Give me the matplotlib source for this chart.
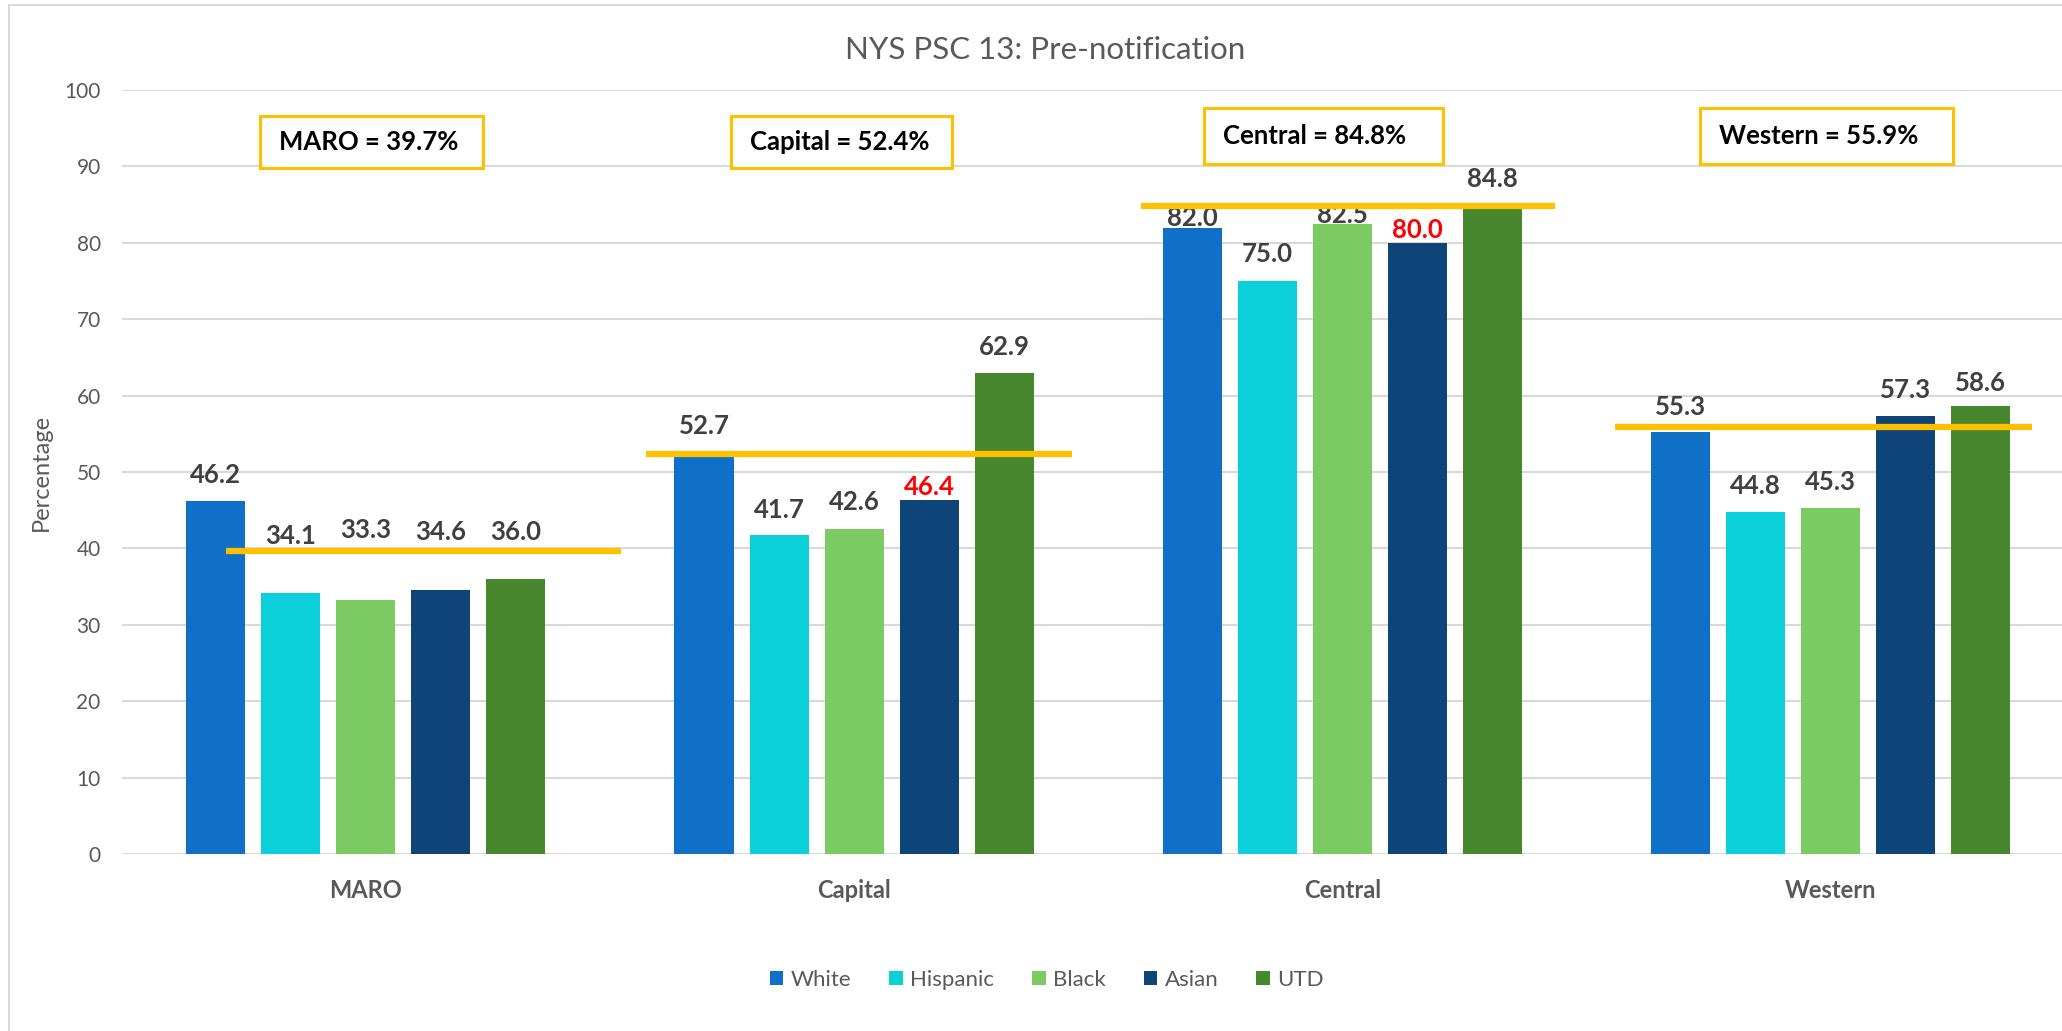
import matplotlib
matplotlib.use("Agg")
import matplotlib.pyplot as plt
from matplotlib.patches import Rectangle, Patch
import numpy as np

plt.rcParams['font.family'] = ['Lato', 'DejaVu Sans']

# ---------------- data ----------------
regions = ["MARO", "Capital", "Central", "Western"]
groups = ["White", "Hispanic", "Black", "Asian", "UTD"]
white = [46.2, 52.7, 82.0, 55.3]
hispanic = [34.1, 41.7, 75.0, 44.8]
black = [33.3, 42.6, 82.5, 45.3]
asian = [34.6, 46.4, 80.0, 57.3]
utd = [36.0, 62.9, 84.8, 58.6]
region_overall = [39.7, 52.4, 84.8, 55.9]
yticks = list(range(0, 101, 10))
title = "NYS PSC 13: Pre-notification"
ylabel = "Percentage"

# labels highlighted in red: (region index, group index)
red_labels = [(1, 3), (2, 3)]

# ---------------- layout / style ----------------
colors = ["#1070C8", "#0BD0D9", "#7CCB62", "#0E4478", "#47882F"]
# label centre heights (data units), manually placed as in the original
label_pos = [
    [49.6, 56.0, 83.2, 58.5],
    [41.6, 45.0, 78.5, 48.2],
    [42.4, 46.1, 83.6, 48.7],
    [42.1, 48.0, 81.7, 60.7],
    [42.1, 66.4, 88.3, 61.6],
]
# horizontal extent of the average line relative to category centre
avg_extent = [(-0.286, 0.523), (-0.426, 0.447), (-0.412, 0.436), (-0.441, 0.412)]
# boxes in pixel coords: (x0, y0_top, x1, y1_bottom)
boxes_px = [(260, 116, 483, 168), (731, 116, 952, 168),
            (1204, 108, 1443, 164), (1700, 108, 1953, 164)]

W, H = 2062, 1031
fig = plt.figure(figsize=(W / 100, H / 100), dpi=100)
fig.patch.set_facecolor("white")

# outer chart border
fig.patches.append(Rectangle((9 / W, -0.1), 1.2, 1 - 5 / H + 0.1, transform=fig.transFigure,
                             fill=False, edgecolor="#D9D9D9", linewidth=1.5, zorder=0))

ax_left = 121.5 / W
ax_right = 2075 / W
ax_top = 1 - 90 / H
ax_bottom = 1 - 854 / H
ax = fig.add_axes([ax_left, ax_bottom, ax_right - ax_left, ax_top - ax_bottom])
ax.set_facecolor("none")

series = [white, hispanic, black, asian, utd]
x = np.arange(len(regions))
bw = 0.121
pitch = 0.1536
offsets = (np.arange(len(groups)) - 2) * pitch

for gi, (vals, c) in enumerate(zip(series, colors)):
    ax.bar(x + offsets[gi], vals, width=bw, color=c, label=groups[gi], zorder=3)
    for ri, v in enumerate(vals):
        col = "#FF0000" if (ri, gi) in red_labels else "#404040"
        ax.text(x[ri] + offsets[gi], label_pos[gi][ri], f"{v:.1f}", ha="center", va="center",
                fontsize=18.5, fontweight="bold", color=col, zorder=4)

for ri, val in enumerate(region_overall):
    a, b = avg_extent[ri]
    ax.plot([x[ri] + a, x[ri] + b], [val, val], color="#FFC000", linewidth=4.5,
            solid_capstyle="butt", zorder=5)

ax.set_xlim(-0.5, 3.5)
ax.set_ylim(0, 100)
ax.set_yticks(yticks)
ax.yaxis.grid(True, color="#D9D9D9", linewidth=1.5, zorder=0)
ax.set_axisbelow(True)
for s in ax.spines.values():
    s.set_visible(False)
ax.tick_params(axis="y", length=0, pad=15, labelsize=15, labelcolor="#595959")
ax.tick_params(axis="x", length=0, pad=18, labelsize=17, labelcolor="#595959")
ax.set_xticks(x)
ax.set_xticklabels(regions, fontweight="bold")
ax.set_ylabel(ylabel, fontsize=17, color="#595959", labelpad=9)

fig.text(1045 / W, 1 - 50 / H, title, ha="center", va="center", fontsize=22.5, color="#595959")

# region summary boxes
for ri, (x0, y0, x1, y1) in enumerate(boxes_px):
    fig.patches.append(Rectangle((x0 / W, 1 - y1 / H), (x1 - x0) / W, (y1 - y0) / H,
                                 transform=fig.transFigure, facecolor="white",
                                 edgecolor="#FFC000", linewidth=2.2, zorder=6))
    fig.text((x0 + 19) / W, 1 - (y0 + y1) / 2 / H, f"{regions[ri]} = {region_overall[ri]}%",
             ha="left", va="center", fontsize=18.5, fontweight="bold", color="black", zorder=7)

handles = [Patch(facecolor=c, label=g) for g, c in zip(groups, colors)]
fig.legend(handles=handles, loc="center", bbox_to_anchor=(1047 / W, 1 - 980 / H), ncol=5,
           frameon=False, fontsize=16, handlelength=0.6, handleheight=0.6,
           handletextpad=0.35, columnspacing=1.7, labelcolor="#595959")

fig.savefig("out.png", dpi=100)
